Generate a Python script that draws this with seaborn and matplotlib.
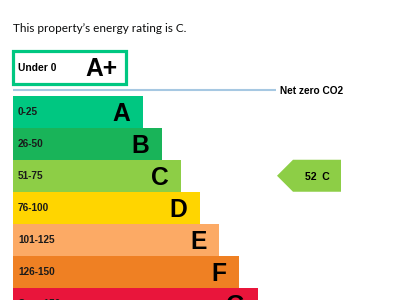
import matplotlib
matplotlib.use("Agg")
import matplotlib.pyplot as plt
from matplotlib.patches import Polygon
import seaborn as sns
import pandas as pd

# ---- data ----
bands = ["A", "B", "C", "D", "E", "F", "G"]
ranges = ["0-25", "26-50", "51-75", "76-100", "101-125", "126-150", "Over 150"]
bar_lengths = [130, 149, 168, 187, 206, 226, 245]
band_colors = ["#00c781", "#19b459", "#8dce46", "#ffd500", "#fcaa65", "#ef8023", "#e9153b"]
top_band = "A+"
top_range = "Under 0"
top_length = 113
current_score = 52
current_band = "C"
title = "This property\u2019s energy rating is C."
net_zero_label = "Net zero CO2"

# ---- layout ----
X0 = 13           # left pixel of bars
STEP = 32         # band pitch in pixels
FIRST_CENTER = 111.75
centers = [FIRST_CENTER + STEP * i for i in range(len(bands))]
top_center = 67.5

sns.set_theme(style="white")
plt.rcParams["font.family"] = ["Liberation Sans", "DejaVu Sans"]

fig = plt.figure(figsize=(4, 3), dpi=100)
ax = fig.add_axes([0, 0, 1, 1])

df = pd.DataFrame({"band": bands, "range": ranges, "length": bar_lengths, "pos": centers})
sns.barplot(data=df, x="length", y="pos", hue="band", orient="h", native_scale=True,
            palette=dict(zip(bands, band_colors)), saturation=1, width=0.985,
            dodge=False, legend=False, linewidth=0, ax=ax)

top_df = pd.DataFrame({"band": [top_band], "length": [top_length], "pos": [top_center]})
sns.barplot(data=top_df, x="length", y="pos", orient="h", native_scale=True,
            color=band_colors[0], fill=False, width=32.5, linewidth=2.3,
            saturation=1, ax=ax)

ax.set_xlim(-X0, 400 - X0)
ax.set_ylim(300, 0)
ax.axis("off")

LETTER_FS = 17.7
cap = 0.716 * LETTER_FS * 100 / 72

for b, r, L, c in zip(bands, ranges, bar_lengths, centers):
    ax.text(L - 12.5, c + cap / 2, b, ha="right", va="baseline",
            fontsize=LETTER_FS, fontweight="bold", color="black")
    ax.text(5, c + 3.7, r, ha="left", va="baseline",
            fontsize=7.2, fontweight="bold", color="#1a1a1a")

# A+ box text
ax.text(5, top_center + 3.8, top_range, ha="left", va="baseline",
        fontsize=7.4, fontweight="bold", color="black")
ax.text(top_length - 8, top_center + cap / 2, top_band, ha="right", va="baseline",
        fontsize=LETTER_FS, fontweight="bold", color="black")

# net zero line
ax.plot([0, 263], [90, 90], color="#a6c8e2", lw=1.5, solid_capstyle="butt")
ax.text(267, 93.6, net_zero_label, ha="left", va="baseline",
        fontsize=7.3, fontweight="bold", color="black")

# title
ax.text(0, 32.3, title, ha="left", va="baseline", fontsize=8.5, color="#0b0c0c",
        family=["Lato", "DejaVu Sans"])

# current rating arrow
idx = bands.index(current_band)
cy = centers[idx]
h = 16
tip = 277 - X0
body = 293 - X0
right = 341 - X0
arrow = Polygon([(tip, cy), (body, cy - h), (right, cy - h), (right, cy + h), (body, cy + h)],
                closed=True, facecolor=band_colors[idx], edgecolor="none")
ax.add_patch(arrow)
ax.text((body + right) / 2, cy + 3.8, f"{current_score}  {current_band}", ha="center",
        va="baseline", fontsize=7.6, fontweight="bold", color="black")

fig.savefig("out.png", dpi=100)
